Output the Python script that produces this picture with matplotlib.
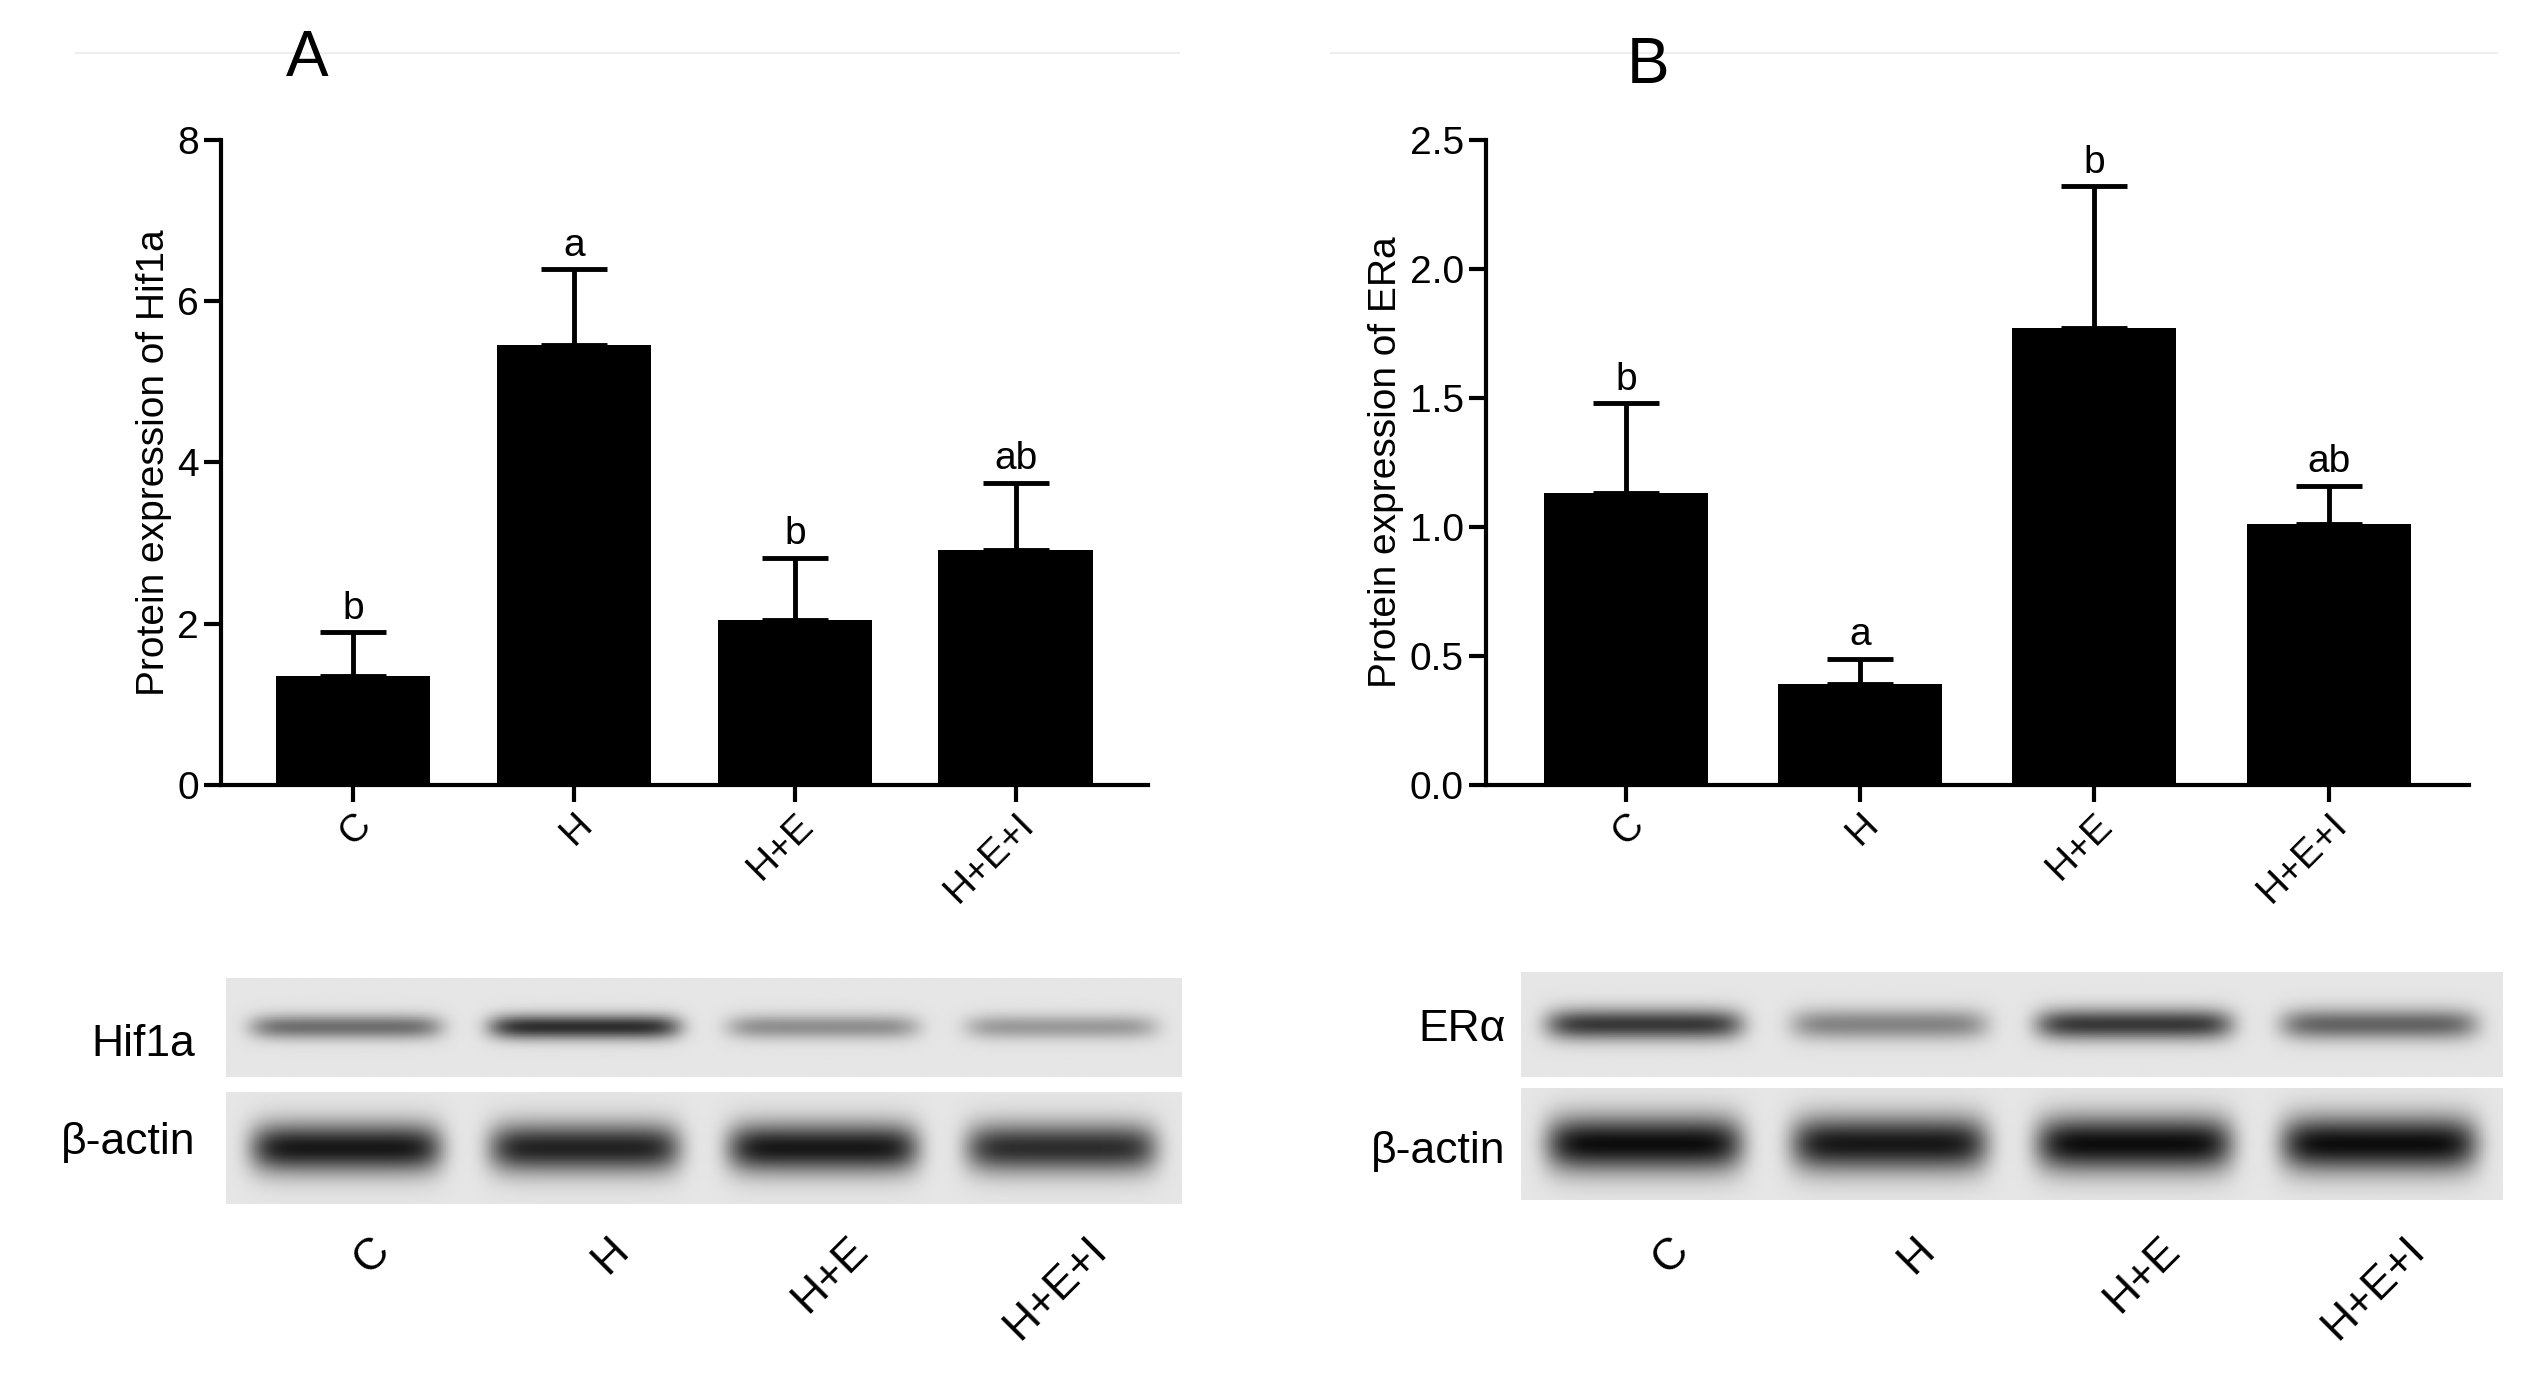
import matplotlib.pyplot as plt
import numpy as np

plt.rcParams['font.family'] = ['Liberation Sans', 'DejaVu Sans']

groups = ['C', 'H', 'H+E', 'H+E+I']
hif_mean = [1.35, 5.45, 2.05, 2.92]
hif_err = [0.55, 0.95, 0.77, 0.83]
hif_letters = ['b', 'a', 'b', 'ab']
era_mean = [1.13, 0.39, 1.77, 1.01]
era_err = [0.35, 0.10, 0.55, 0.15]
era_letters = ['b', 'a', 'b', 'ab']

# band strengths for the blots (0..1)
hif_band = [0.55, 0.85, 0.4, 0.35]
actin_a = [0.95, 0.9, 0.95, 0.85]
era_band = [0.8, 0.45, 0.8, 0.6]
actin_b = [1.0, 0.95, 1.0, 1.0]

fig = plt.figure(figsize=(25.35, 13.97), dpi=100)


def bar_panel(rect, means, errs, letters, ylim, yticks, ylabel, fmt):
    ax = fig.add_axes(rect)
    x = np.arange(len(groups))
    ax.bar(x, means, width=0.7, color='black')
    ax.errorbar(x, means, yerr=[np.zeros(len(errs)), errs], fmt='none',
                ecolor='black', elinewidth=3.5, capsize=24, capthick=3.5)
    for i in range(len(groups)):
        ax.text(x[i], means[i] + errs[i] + ylim[1] * 0.008, letters[i],
                ha='center', va='bottom', fontsize=28)
    ax.set_xlim(-0.6, 3.6)
    ax.set_ylim(*ylim)
    ax.set_yticks(yticks)
    ax.set_yticklabels([fmt.format(v) for v in yticks], fontsize=28)
    ax.set_xticks(x)
    ax.set_xticklabels(groups, rotation=45, fontsize=28, ha='right',
                       rotation_mode='anchor')
    ax.set_ylabel(ylabel, fontsize=28)
    for s in ['top', 'right']:
        ax.spines[s].set_visible(False)
    for s in ['left', 'bottom']:
        ax.spines[s].set_linewidth(3)
    ax.tick_params(width=3, length=12)
    return ax


def blot(rect, strengths, thick):
    ax = fig.add_axes(rect)
    cols = np.linspace(0, 4, 400)
    rows = np.linspace(-1, 1, 60)
    img = np.zeros((60, 400))
    for i, s in enumerate(strengths):
        lane = np.exp(-((cols - (i + 0.5)) / 0.4) ** 8)
        band = np.exp(-(rows / thick) ** 2)
        img += s * np.outer(band, lane)
    ax.imshow(0.9 - 0.85 * np.clip(img, 0, 1), cmap='gray', vmin=0, vmax=1,
              aspect='auto', extent=[0, 4, -1, 1])
    ax.set_xticks([])
    ax.set_yticks([])
    for s in ax.spines.values():
        s.set_visible(False)
    return ax


bar_panel([0.087, 0.438, 0.366, 0.462], hif_mean, hif_err, hif_letters,
          (0, 8), [0, 2, 4, 6, 8], 'Protein expression of Hif1a', '{:.0f}')
bar_panel([0.586, 0.438, 0.388, 0.462], era_mean, era_err, era_letters,
          (0, 2.5), [0, 0.5, 1.0, 1.5, 2.0, 2.5], 'Protein expression of ERa',
          '{:.1f}')

blot([0.089, 0.229, 0.377, 0.071], hif_band, 0.25)
blot([0.089, 0.138, 0.377, 0.080], actin_a, 0.45)
blot([0.600, 0.229, 0.387, 0.075], era_band, 0.3)
blot([0.600, 0.141, 0.387, 0.080], actin_b, 0.5)

fig.text(0.077, 0.252, 'Hif1a', ha='right', va='center', fontsize=32)
fig.text(0.077, 0.182, 'β-actin', ha='right', va='center', fontsize=32)
fig.text(0.594, 0.263, 'ERα', ha='right', va='center', fontsize=32)
fig.text(0.594, 0.176, 'β-actin', ha='right', va='center', fontsize=32)

for left, width in [(0.089, 0.377), (0.600, 0.387)]:
    for i, g in enumerate(groups):
        fig.text(left + width * (i + 0.6) / 4, 0.12, g, rotation=45,
                 ha='right', va='top', fontsize=32, rotation_mode='anchor')

fig.text(0.121, 0.958, 'A', ha='center', va='center', fontsize=46)
fig.text(0.650, 0.953, 'B', ha='center', va='center', fontsize=46)
fig.add_artist(plt.Line2D([0.03, 0.465], [0.962, 0.962], color='#eeeeee', lw=1.5))
fig.add_artist(plt.Line2D([0.525, 0.985], [0.962, 0.962], color='#eeeeee', lw=1.5))

fig.savefig('out.png', dpi=100)
